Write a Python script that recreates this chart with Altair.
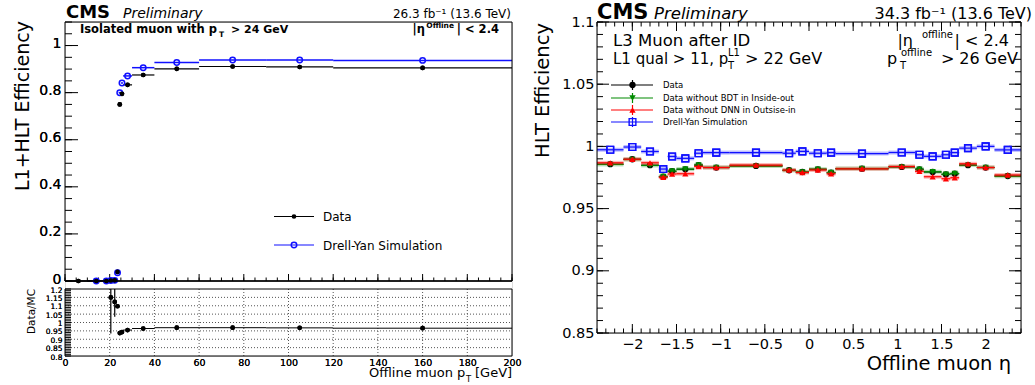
import altair as alt
import pandas as pd

FONT = "DejaVu Sans"
BLUE = "#1010ff"
GREEN = "#008a00"
RED = "#ff0000"

# ================= Left panel: L1+HLT efficiency vs offline muon pT =================
pt_center = [6, 14, 18.5, 20.5, 22.25, 23.5, 24.5, 25.5, 28, 35, 50, 75, 105, 160]
pt_low    = [0, 10, 17, 20, 21.5, 23, 24, 25, 26, 30, 40, 60, 90, 120]
pt_high   = [12, 18, 20, 21, 23, 24, 25, 26, 30, 40, 60, 90, 120, 200]
eff_data  = [0.0, 0.0, 0.0, 0.002, 0.003, 0.0385, 0.750, 0.795, 0.833, 0.875, 0.901, 0.911, 0.909, 0.905]
eff_dy    = [None, 0.0, 0.0, 0.0017, 0.0027, 0.035, 0.800, 0.841, 0.871, 0.906, 0.928, 0.939, 0.939, 0.937]
ratio_dmc = [None, None, None, 1.15, 1.123, 1.097, 0.937, 0.943, 0.955, 0.964, 0.969, 0.969, 0.968, 0.966]
err_pt    = [20.5, 22.25]
err_low   = [0.935, 1.035]
err_high  = [1.30, 1.30]

left_y_labels  = [0, 0.2, 0.4, 0.6, 0.8, 1]
left_x_labels  = [0, 20, 40, 60, 80, 100, 120, 140, 160, 180, 200]
ratio_y_labels = [0.8, 0.85, 0.9, 0.95, 1, 1.05, 1.1, 1.15, 1.2]

# ================= Right panel: HLT efficiency vs offline muon eta =================
eta_low    = [-2.4, -2.1, -1.9, -1.7, -1.6, -1.5, -1.3, -1.2, -0.9, -0.3, -0.15, 0.0, 0.2, 0.3, 0.9, 1.2, 1.3, 1.5, 1.6, 1.7, 1.9, 2.1]
eta_high   = [-2.1, -1.9, -1.7, -1.6, -1.5, -1.3, -1.2, -0.9, -0.3, -0.15, 0.0, 0.2, 0.3, 0.9, 1.2, 1.3, 1.5, 1.6, 1.7, 1.9, 2.1, 2.4]
eta_center = [-2.25, -2.0, -1.8, -1.65, -1.55, -1.4, -1.25, -1.05, -0.6, -0.225, -0.075, 0.1, 0.25, 0.6, 1.05, 1.25, 1.4, 1.55, 1.65, 1.8, 2.0, 2.25]
hlt_dy    = [0.9973, 0.9995, 0.9959, 0.9818, 0.9919, 0.9904, 0.9945, 0.9950, 0.9950, 0.9945, 0.9960, 0.9945, 0.9950, 0.9942, 0.9951, 0.9933, 0.9920, 0.9933, 0.9950, 0.9986, 1.0000, 0.9972]
hlt_data  = [0.9857, 0.9897, 0.9849, 0.9756, 0.9800, 0.9816, 0.9849, 0.9830, 0.9843, 0.9808, 0.9794, 0.9816, 0.9789, 0.9821, 0.9835, 0.9816, 0.9794, 0.9775, 0.9780, 0.9849, 0.9830, 0.9762]
hlt_nobdt = [0.9855, 0.9895, 0.9847, 0.9758, 0.9802, 0.9818, 0.9851, 0.9831, 0.9842, 0.9807, 0.9795, 0.9817, 0.9790, 0.9822, 0.9836, 0.9817, 0.9796, 0.9777, 0.9782, 0.9850, 0.9831, 0.9760]
hlt_nodnn = [0.9868, 0.9897, 0.9868, 0.9752, 0.9778, 0.9780, 0.9838, 0.9830, 0.9850, 0.9810, 0.9790, 0.9810, 0.9780, 0.9820, 0.9838, 0.9800, 0.9756, 0.9740, 0.9748, 0.9860, 0.9830, 0.9770]
right_legend = ["Data", "Data without BDT in Inside-out", "Data without DNN in Outsise-in", "Drell-Yan Simulation"]
right_x_labels = [-2, -1.5, -1, -0.5, 0, 0.5, 1, 1.5, 2]
right_y_labels = [0.85, 0.9, 0.95, 1, 1.05, 1.1]


def steps(a, b, n):
    return [round(a + (b - a) * i / n, 4) for i in range(n + 1)]


# ---------------- geometry (page pixels) ----------------
W1 = 447
H1 = 259            # main pad height
R0, R1 = 267, 334   # ratio pad top / bottom inside the left view
W3, H3 = 424, 311
O1 = (64, 21)
O3 = (596, 21)

one = pd.DataFrame({"k": [0]})


def text(s, px, py, size, origin, align="left", weight="normal", style="normal", angle=None, color="black"):
    kw = dict(align=align, baseline="alphabetic", fontSize=size, font=FONT,
              fontWeight=weight, fontStyle=style, color=color)
    if angle is not None:
        kw["angle"] = angle
    return alt.Chart(one).mark_text(**kw).encode(
        x=alt.value(px - origin[0]), y=alt.value(py - origin[1]), text=alt.value(s))


def yticks(vals, scale, x0, x1, color="black"):
    df = pd.DataFrame({"tv": vals})
    return alt.Chart(df).mark_rule(color=color, strokeWidth=1).encode(
        y=alt.Y("tv:Q", scale=scale, axis=None), x=alt.value(x0), x2=alt.value(x1))


def xticks(vals, scale, y0, y1, color="black"):
    df = pd.DataFrame({"tv": vals})
    return alt.Chart(df).mark_rule(color=color, strokeWidth=1).encode(
        x=alt.X("tv:Q", scale=scale, axis=None), y=alt.value(y0), y2=alt.value(y1))


def hline(px0, px1, py, origin, color, width=1.2):
    return alt.Chart(one).mark_rule(color=color, strokeWidth=width).encode(
        x=alt.value(px0 - origin[0]), x2=alt.value(px1 - origin[0]), y=alt.value(py - origin[1]))


def vline(px, py0, py1, origin, color, width=1.2):
    return alt.Chart(one).mark_rule(color=color, strokeWidth=width).encode(
        x=alt.value(px - origin[0]), y=alt.value(py0 - origin[1]), y2=alt.value(py1 - origin[1]))


def marker(px, py, origin, shape, color, filled, size, sw=1.3):
    return alt.Chart(one).mark_point(shape=shape, filled=filled, color=color, size=size,
                                     strokeWidth=sw, opacity=1).encode(
        x=alt.value(px - origin[0]), y=alt.value(py - origin[1]))


def frame(x0, y0, x1, y1, width=1):
    return alt.Chart(one).mark_rect(fillOpacity=0, stroke="black", strokeWidth=width).encode(
        x=alt.value(x0), x2=alt.value(x1), y=alt.value(y0), y2=alt.value(y1))


def lab_axis(orient, values, size, pad, fmt="~g", shift=0):
    return alt.Axis(orient=orient, values=values, format=fmt, ticks=False, tickSize=0, domain=False,
                    grid=False, labelFont=FONT, labelFontSize=size, labelPadding=pad,
                    labelOffset=shift, labelFlush=False, labelOverlap=False, labelColor="black",
                    title=None)


# ================= LEFT VIEW (main pad + ratio pad) =================
xs1 = alt.Scale(domain=[0, 200], nice=False, zero=False)
ysM = alt.Scale(domain=[0, 1.1], range=[H1, 0], nice=False, zero=False)
ysR = alt.Scale(domain=[0.8, 1.2], range=[R1, R0], nice=False, zero=False)
df_left = pd.DataFrame({"pt": pt_center, "lo": pt_low, "hi": pt_high,
                        "data": eff_data, "dy": eff_dy, "ratio": ratio_dmc})

hb_dy = alt.Chart(df_left).mark_rule(color=BLUE, strokeWidth=1.5).encode(
    x=alt.X("lo:Q", scale=xs1, axis=None), x2="hi:Q", y=alt.Y("dy:Q", scale=ysM, axis=None))
hb_data = alt.Chart(df_left).mark_rule(color="black", strokeWidth=1.2).encode(
    x=alt.X("lo:Q", scale=xs1, axis=None), x2="hi:Q", y=alt.Y("data:Q", scale=ysM, axis=None))
pts_dy = alt.Chart(df_left).mark_point(shape="circle", filled=False, color=BLUE, size=30,
                                       strokeWidth=1.5, opacity=1).encode(
    x=alt.X("pt:Q", scale=xs1, axis=None), y=alt.Y("dy:Q", scale=ysM, axis=None))
pts_data = alt.Chart(df_left).mark_point(shape="circle", filled=True, color="black", size=22,
                                         opacity=1).encode(
    x=alt.X("pt:Q", scale=xs1, axis=None),
    y=alt.Y("data:Q", scale=ysM, axis=lab_axis("left", left_y_labels, 14, 4, shift=-2)))

anchor = alt.Chart(one).mark_rule(opacity=0, strokeOpacity=0).encode(
    x=alt.value(-O1[0]), x2=alt.value(-O1[0] + 1), y=alt.value(-O1[1]))

grid_x = alt.Chart(pd.DataFrame({"gv": left_x_labels[1:-1]})).mark_rule(
    color="#555", strokeWidth=1, strokeDash=[1, 2]).encode(
    x=alt.X("gv:Q", scale=xs1, axis=None), y=alt.value(R0), y2=alt.value(R1))
grid_y = alt.Chart(pd.DataFrame({"gv": ratio_y_labels[1:-1]})).mark_rule(
    color="#555", strokeWidth=1, strokeDash=[1, 2]).encode(
    y=alt.Y("gv:Q", scale=ysR, axis=None), x=alt.value(0), x2=alt.value(W1))
hb_ratio = alt.Chart(df_left).mark_rule(color="black", strokeWidth=1).encode(
    x=alt.X("lo:Q", scale=xs1, axis=None), x2="hi:Q", y=alt.Y("ratio:Q", scale=ysR, axis=None))
df_err = pd.DataFrame({"pt": err_pt, "lo": err_low, "hi": err_high})
eb_ratio = alt.Chart(df_err).mark_rule(color="black", strokeWidth=1.2).encode(
    x=alt.X("pt:Q", scale=xs1, axis=None),
    y=alt.Y("lo:Q", scale=alt.Scale(domain=[0.8, 1.2], range=[R1, R0], nice=False, zero=False, clamp=True),
            axis=None), y2="hi:Q")
pts_ratio = alt.Chart(df_left).mark_point(shape="circle", filled=True, color="black", size=22,
                                          opacity=1).encode(
    x=alt.X("pt:Q", scale=xs1, axis=lab_axis("bottom", left_x_labels, 9.5, 1, "d")),
    y=alt.Y("ratio:Q", scale=ysR, axis=lab_axis("left", ratio_y_labels, 7.5, 3, shift=1)))

left_view = alt.layer(
    anchor,
    pts_data,
    pts_ratio,
    # main pad ticks
    yticks(steps(0, 1.1, 22), ysM, 0, 7),
    yticks(left_y_labels, ysM, 0, 13),
    xticks(steps(0, 200, 40), xs1, H1, H1 - 3.5),
    xticks(left_x_labels, xs1, H1, H1 - 7),
    hb_dy, hb_data, pts_dy, pts_data,
    # ratio pad
    grid_x, grid_y,
    yticks(steps(0.8, 1.2, 40), ysR, 0, 6),
    hb_ratio, eb_ratio, pts_ratio,
    frame(0, 0, W1, H1),
    hline(64, 511, 280, O1, "black", 1.6),
    frame(0, R0, W1, R1),
    # legend
    hline(273, 313, 215.5, O1, "black"),
    marker(293, 215.5, O1, "circle", "black", True, 22),
    text("Data", 322, 220, 12, O1),
    hline(273, 313, 244, O1, BLUE),
    marker(293, 244, O1, "circle", BLUE, False, 30, 1.5),
    text("Drell-Yan Simulation", 322, 248.5, 12, O1),
    # header / labels
    text("CMS", 65, 17, 18, O1, weight="bold"),
    text("Preliminary", 122, 17, 14, O1, style="italic"),
    text("26.3 fb\u207b\u00b9 (13.6 TeV)", 510, 17, 12, O1, align="right"),
    text("Isolated muon with p", 79, 32, 11.5, O1, weight="bold"),
    text("T", 218, 35.5, 7.5, O1, weight="bold"),
    text("> 24 GeV", 230, 32, 11, O1, weight="bold"),
    text("|\u03b7", 424, 32, 11.5, O1, weight="bold", align="right"),
    text("Offline", 453, 27, 7.5, O1, weight="bold", align="right"),
    text("| < 2.4", 498, 32, 11.5, O1, weight="bold", align="right"),
    text("L1+HLT Efficiency", 28, 20, 19, O1, align="right", angle=270),
    text("Data/MC", 34, 288, 10.5, O1, align="right", angle=270),
    text("Offline muon p", 368, 376, 13, O1),
    text("T", 465, 381, 8.5, O1),
    text("[GeV]", 474, 376, 13, O1),
).resolve_scale(y="independent").resolve_axis(x="independent", y="independent").properties(
    width=W1, height=R1)

# ================= RIGHT VIEW =================
xs3 = alt.Scale(domain=[-2.4, 2.4], nice=False, zero=False)
ys3 = alt.Scale(domain=[0.85, 1.1], range=[H3, 0], nice=False, zero=False)
df_right = pd.DataFrame({"eta": eta_center, "lo": eta_low, "hi": eta_high, "dy": hlt_dy,
                         "data": hlt_data, "nobdt": hlt_nobdt, "nodnn": hlt_nodnn})


def series(field, color, shape, filled, size, band=True):
    layers = []
    if band:
        layers.append(alt.Chart(df_right).mark_rule(color=color, strokeWidth=4, opacity=0.28).encode(
            x=alt.X("lo:Q", scale=xs3, axis=None), x2="hi:Q", y=alt.Y(field + ":Q", scale=ys3, axis=None)))
    layers.append(alt.Chart(df_right).mark_rule(color=color, strokeWidth=1.2).encode(
        x=alt.X("lo:Q", scale=xs3, axis=None), x2="hi:Q", y=alt.Y(field + ":Q", scale=ys3, axis=None)))
    layers.append(alt.Chart(df_right).mark_point(shape=shape, filled=filled, color=color, size=size,
                                                 strokeWidth=1.4, opacity=1).encode(
        x=alt.X("eta:Q", scale=xs3, axis=None), y=alt.Y(field + ":Q", scale=ys3, axis=None)))
    return layers


pts_dy_r = alt.Chart(df_right).mark_point(shape="square", filled=False, color=BLUE, size=45,
                                          strokeWidth=1.4, opacity=1).encode(
    x=alt.X("eta:Q", scale=xs3, axis=lab_axis("bottom", right_x_labels, 14.5, 4)),
    y=alt.Y("dy:Q", scale=ys3, axis=lab_axis("left", right_y_labels, 14.5, 3)))

anchor3 = alt.Chart(one).mark_rule(opacity=0, strokeOpacity=0).encode(
    x=alt.value(0), x2=alt.value(1), y=alt.value(0))

leg_rows = [(84, "black", "circle", True), (97, GREEN, "triangle-down", True),
            (109, RED, "triangle-up", True), (121, BLUE, "square", False)]
legend_layers = []
for (ly, col, shp, fil), lab in zip(leg_rows, right_legend):
    legend_layers += [
        hline(610, 652, ly, O3, col, 1.2),
        vline(631.5, ly - 5, ly + 5, O3, col, 1.2),
        marker(631.5, ly, O3, shp, col, fil, 40 if fil else 45, 1.4),
        text(lab, 662, ly + 3, 8.5, O3),
    ]

right_view = alt.layer(
    anchor3,
    pts_dy_r,
    yticks(steps(0.85, 1.1, 25), ys3, 0, 6),
    yticks(right_y_labels, ys3, 0, 12),
    yticks(steps(0.85, 1.1, 25), ys3, W3 - 6, W3),
    yticks(right_y_labels, ys3, W3 - 12, W3),
    xticks(steps(-2.4, 2.4, 48), xs3, H3, H3 - 4.5),
    xticks(right_x_labels, xs3, H3, H3 - 9),
    xticks(steps(-2.4, 2.4, 48), xs3, 0, 4.5),
    xticks(right_x_labels, xs3, 0, 9),
    *series("dy", BLUE, "square", False, 45),
    *series("data", "black", "circle", True, 40, band=False),
    *series("nobdt", GREEN, "triangle-down", True, 38),
    *series("nodnn", RED, "triangle-up", True, 38),
    frame(0, 0, W3, H3),
    *legend_layers,
    text("CMS", 596, 18, 21, O3, weight="bold"),
    text("Preliminary", 653, 18, 16.5, O3, style="italic"),
    text("34.3 fb\u207b\u00b9 (13.6 TeV)", 1031, 18, 16, O3, align="right"),
    text("L3 Muon after ID", 612, 45, 16.5, O3),
    text("L1 qual > 11, p", 612, 63, 15, O3),
    text("T", 727, 68, 10, O3),
    text("L1", 727, 55, 10, O3),
    text("> 22 GeV", 744, 63, 16, O3),
    text("|\u03b7", 912, 45, 16, O3, align="right"),
    text("offline", 952, 37, 10, O3, align="right"),
    text("| < 2.4", 1008, 45, 16, O3, align="right"),
    text("p", 886, 63, 16, O3),
    text("T", 899, 68, 10, O3),
    text("offline", 900, 55, 10, O3),
    text("> 26 GeV", 1017, 63, 16, O3, align="right"),
    text("HLT Efficiency", 548, 22, 19.5, O3, align="right", angle=270),
    text("Offline muon \u03b7", 1010, 369, 19.5, O3, align="right"),
).resolve_scale(y="independent").resolve_axis(x="independent", y="independent").properties(
    width=W3, height=H3)

chart = alt.hconcat(left_view, right_view, spacing=85, bounds="flush").properties(
    padding=0
).configure_view(strokeWidth=0).configure(font=FONT)

chart.save("out.html", embed_options={"renderer": "svg", "actions": False})
